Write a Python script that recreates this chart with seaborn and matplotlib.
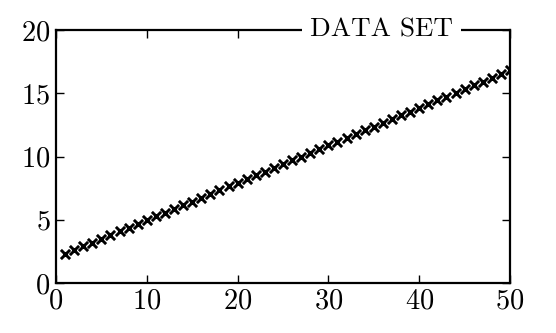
import matplotlib
matplotlib.use("Agg")
import matplotlib.pyplot as plt
import seaborn as sns
import pandas as pd

x_values = list(range(1, 51))
y_values = [2.30, 2.60, 2.89, 3.19, 3.48, 3.78, 4.08, 4.37, 4.67, 4.96,
            5.26, 5.56, 5.85, 6.15, 6.44, 6.74, 7.04, 7.33, 7.63, 7.92,
            8.22, 8.52, 8.81, 9.11, 9.40, 9.70, 10.00, 10.29, 10.59, 10.88,
            11.18, 11.48, 11.77, 12.07, 12.36, 12.66, 12.96, 13.25, 13.55, 13.84,
            14.14, 14.44, 14.73, 15.03, 15.32, 15.62, 15.92, 16.21, 16.51, 16.80]
series_label = "DATA SET"
x_ticks = [0, 10, 20, 30, 40, 50]
y_ticks = [0, 5, 10, 15, 20]

sns.set_theme(style="ticks")
plt.rcParams["font.family"] = ["cmr10", "DejaVu Serif"]
plt.rcParams["axes.formatter.use_mathtext"] = True
plt.rcParams["axes.unicode_minus"] = False

df = pd.DataFrame({"x": x_values, "y": y_values})

fig = plt.figure(figsize=(5.56, 3.33), dpi=100)
ax = fig.add_axes([0.1007, 0.150, 0.8166, 0.760])

sns.scatterplot(data=df, x="x", y="y", marker="x", s=44, color="black",
                linewidth=2.1, ax=ax, legend=False)

ax.set_xlim(0, 50)
ax.set_ylim(0, 20)
ax.set_xticks(x_ticks)
ax.set_yticks(y_ticks)
ax.set_xlabel("")
ax.set_ylabel("")
for s in ax.spines.values():
    s.set_linewidth(1.6)
    s.set_color("black")
ax.tick_params(direction="in", length=6, width=1.0, top=True, right=True,
               labelsize=20.5, colors="black", pad=4)

ax.text(0.716, 1.0, series_label, transform=ax.transAxes, ha="center", va="center",
        fontsize=19.5, color="black", zorder=10, clip_on=False,
        bbox=dict(boxstyle="square,pad=0.3", facecolor="white", edgecolor="none"))

fig.savefig("out.png", dpi=100)
